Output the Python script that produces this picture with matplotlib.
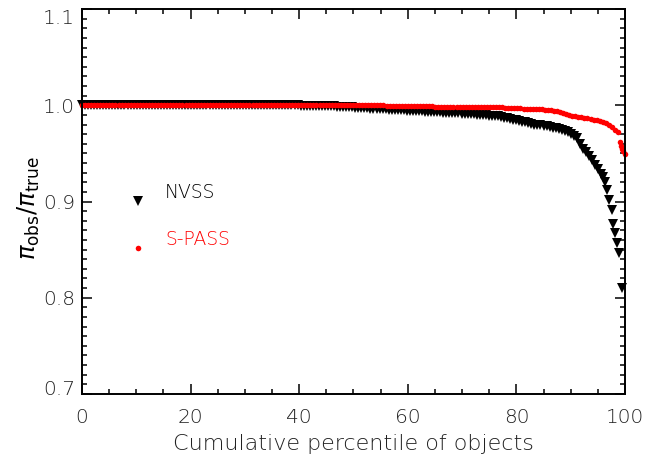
import numpy as np
import matplotlib
matplotlib.use("Agg")
import matplotlib.pyplot as plt
from matplotlib.ticker import MultipleLocator, FixedFormatter, FixedLocator
import matplotlib.transforms as mtransforms

# ---------------- data ----------------
# NVSS: bulk of the objects, evenly spread in cumulative percentile
nvss_bulk_range = (0.0, 94.5)
nvss_bulk_y = (
    [1.000] * 36
    + [1.000] * 12 + [1.000] * 24
    + [0.999] * 4 + [0.999] * 8 + [0.998] * 6
    + [0.997] * 5 + [0.996] * 6 + [0.995] * 6
    + [0.994] * 6 + [0.993] * 6 + [0.992] * 6 + [0.991] * 5 + [0.990] * 4 + [0.989] * 4
    + [0.988, 0.987, 0.987, 0.986, 0.985, 0.985, 0.984, 0.983, 0.983, 0.982, 0.981, 0.980, 0.980]
    + [0.979, 0.978, 0.978, 0.977, 0.976, 0.976, 0.975, 0.974, 0.973]
    + [0.972, 0.970, 0.968, 0.966]
    + [0.960, 0.955, 0.951, 0.947, 0.943, 0.938]
)
nvss_tail_x = [95.0, 95.5, 95.9, 96.3, 96.7, 97.1, 97.6, 97.8, 98.2, 98.5, 98.9, 99.4]
nvss_tail_y = [0.934, 0.929, 0.925, 0.920, 0.912, 0.902, 0.891, 0.877, 0.867, 0.857, 0.846, 0.810]

# S-PASS
spass_bulk_range = (0.0, 98.7)
spass_bulk_y = (
    [1.000] * 90
    + [1.000] * 10 + [0.999] * 16 + [0.998] * 15
    + [0.998] * 8 + [0.997] * 6 + [0.996] * 6
    + [0.996, 0.995, 0.995, 0.995, 0.994, 0.994, 0.993]
    + [0.992, 0.991, 0.990, 0.989, 0.989]
    + [0.988, 0.988, 0.987, 0.987, 0.986, 0.985, 0.985, 0.984]
    + [0.983, 0.982, 0.980, 0.977, 0.974, 0.972]
)
spass_tail_x = [99.1, 99.3, 99.5, 99.7, 100.0]
spass_tail_y = [0.962, 0.958, 0.955, 0.952, 0.949]

legend_labels = ["NVSS", "S-PASS"]
x_ticks = [0, 20, 40, 60, 80, 100]
x_ticklabels = ["0", "20", "40", "60", "80", "100"]
y_ticks = [0.7, 0.8, 0.9, 1.0, 1.1]
y_ticklabels = ["0.7", "0.8", "0.9", "1.0", "1.1"]
x_label = "Cumulative percentile of objects"
y_label = r"$\pi_{\rm obs}/\pi_{\rm true}$"

# ---------------- assemble series ----------------
nvss_x = np.concatenate([np.linspace(*nvss_bulk_range, len(nvss_bulk_y)), nvss_tail_x])
nvss_y = np.concatenate([nvss_bulk_y, nvss_tail_y])
spass_x = np.concatenate([np.linspace(*spass_bulk_range, len(spass_bulk_y)), spass_tail_x])
spass_y = np.concatenate([spass_bulk_y, spass_tail_y])

# ---------------- figure ----------------
plt.rcParams['font.family'] = ['DejaVu Sans']
plt.rcParams['mathtext.fontset'] = 'dejavusans'
fig = plt.figure(figsize=(6.47, 4.62), dpi=100)
ax = fig.add_axes([0.1267, 0.1472, 0.966 - 0.1267, 0.9805 - 0.1472])

tri_ms = 7.2
dot_ms = 4.0
ax.plot(nvss_x, nvss_y, linestyle='none', marker='v', color='black', markersize=tri_ms,
        markeredgewidth=0, clip_on=False)
ax.plot(spass_x, spass_y, linestyle='none', marker='o', color='red', markersize=dot_ms,
        markeredgewidth=0, clip_on=False)

ax.set_xlim(0, 100)
ax.set_ylim(0.7, 1.1)
ax.xaxis.set_major_locator(FixedLocator(x_ticks))
ax.xaxis.set_major_formatter(FixedFormatter(x_ticklabels))
ax.xaxis.set_minor_locator(MultipleLocator(5))
ax.yaxis.set_major_locator(FixedLocator(y_ticks))
ax.yaxis.set_major_formatter(FixedFormatter(y_ticklabels))
ax.yaxis.set_minor_locator(MultipleLocator(0.01))

ax.tick_params(which='both', direction='in', bottom=True, top=True, left=True, right=True)
ax.tick_params(which='major', length=7.5, width=1.1, color='black')
ax.tick_params(which='minor', length=3.8, width=1.1, color='black')
ax.tick_params(axis='x', which='major', pad=10, labelsize=14.5, labelcolor='#222222')
ax.tick_params(axis='y', which='major', pad=5, labelsize=14.5, labelcolor='#222222')
for lab in ax.get_xticklabels() + ax.get_yticklabels():
    lab.set_fontweight('light')
for s in ax.spines.values():
    s.set_linewidth(1.4)

# IDL-like placement of the end labels on the y axis (nudged inward)
fig.canvas.draw()
ylabs = ax.yaxis.get_majorticklabels()
ylabs[-1].set_transform(ylabs[-1].get_transform() + mtransforms.ScaledTranslation(0, -7 / 100, fig.dpi_scale_trans))
ylabs[0].set_transform(ylabs[0].get_transform() + mtransforms.ScaledTranslation(0, 6 / 100, fig.dpi_scale_trans))

ax.set_xlabel(x_label, fontsize=16, fontweight='light', color='#222222', labelpad=5)
fig.text(0.045, 1 - 208 / 462, y_label, rotation=90, fontsize=17.5, ha='center', va='center')

# legend drawn as IDL-style symbols + text
ax.plot([10.3], [0.901], linestyle='none', marker='v', color='black', markersize=tri_ms, markeredgewidth=0)
ax.text(15.3, 0.909, legend_labels[0], fontsize=13.5, fontweight='light', color='black', va='center')
ax.plot([10.3], [0.852], linestyle='none', marker='o', color='red', markersize=dot_ms, markeredgewidth=0)
ax.text(15.3, 0.860, legend_labels[1], fontsize=13.5, fontweight='light', color='red', va='center')

fig.savefig("out.png", dpi=100)
